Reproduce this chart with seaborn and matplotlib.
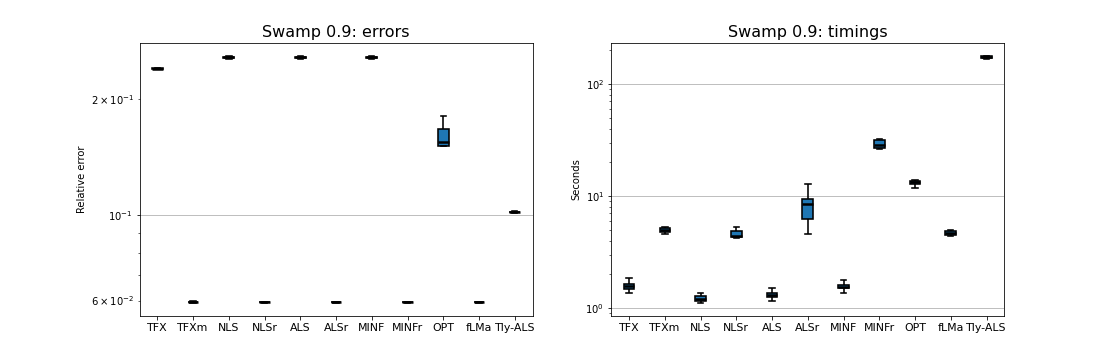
import pandas as pd
import matplotlib
matplotlib.use("Agg")
import matplotlib.pyplot as plt
import seaborn as sns

# Methods (x axis categories)
methods = ["TFX", "TFXm", "NLS", "NLSr", "ALS", "ALSr", "MINF", "MINFr", "OPT", "fLMa", "Tly-ALS"]

# Relative errors per method (min, q1, median, q3, max)
err_TFX = [0.2400, 0.2403, 0.2406, 0.2409, 0.2412]
err_TFXm = [0.0592, 0.0594, 0.0595, 0.0596, 0.0597]
err_NLS = [0.2545, 0.2555, 0.2572, 0.2585, 0.2590]
err_NLSr = [0.0593, 0.0594, 0.0594, 0.0595, 0.0595]
err_ALS = [0.2545, 0.2555, 0.2572, 0.2585, 0.2590]
err_ALSr = [0.0593, 0.0594, 0.0594, 0.0595, 0.0595]
err_MINF = [0.2545, 0.2555, 0.2572, 0.2585, 0.2590]
err_MINFr = [0.0593, 0.0594, 0.0594, 0.0595, 0.0595]
err_OPT = [0.1515, 0.1516, 0.1548, 0.1680, 0.1806]
err_fLMa = [0.0593, 0.0594, 0.0594, 0.0595, 0.0595]
err_TlyALS = [0.1016, 0.1018, 0.1020, 0.1022, 0.1024]

# Timings in seconds per method
t_TFX = [1.354, 1.47, 1.575, 1.63, 1.85]
t_TFXm = [4.61, 4.77, 5.01, 5.18, 5.29]
t_NLS = [1.101, 1.155, 1.21, 1.272, 1.354]
t_NLSr = [4.25, 4.30, 4.39, 4.87, 5.29]
t_ALS = [1.155, 1.255, 1.299, 1.354, 1.50]
t_ALSr = [4.61, 6.24, 8.45, 9.43, 12.86]
t_MINF = [1.354, 1.50, 1.543, 1.597, 1.77]
t_MINFr = [26.1, 26.7, 28.6, 31.9, 32.6]
t_OPT = [11.84, 12.86, 13.3, 13.77, 13.9]
t_fLMa = [4.39, 4.48, 4.67, 4.84, 4.97]
t_TlyALS = [169.0, 171.0, 174.0, 177.0, 180.0]

errors = [err_TFX, err_TFXm, err_NLS, err_NLSr, err_ALS, err_ALSr,
          err_MINF, err_MINFr, err_OPT, err_fLMa, err_TlyALS]
timings = [t_TFX, t_TFXm, t_NLS, t_NLSr, t_ALS, t_ALSr,
           t_MINF, t_MINFr, t_OPT, t_fLMa, t_TlyALS]

df_err = pd.DataFrame([(m, v) for m, vals in zip(methods, errors) for v in vals],
                      columns=["method", "value"])
df_time = pd.DataFrame([(m, v) for m, vals in zip(methods, timings) for v in vals],
                       columns=["method", "value"])

fig, axes = plt.subplots(1, 2, figsize=(15.5, 5), dpi=72)
fig.subplots_adjust(left=0.125, right=0.9, bottom=0.123, top=0.88, wspace=0.2)

box_kw = dict(x="method", y="value", order=methods, width=0.3, color="#1f77b4",
              saturation=1, linecolor="black", linewidth=1.6, whis=(0, 100),
              showfliers=False, log_scale=True,
              medianprops={"linewidth": 2.5, "color": "black"})

panels = [(axes[0], df_err, "Swamp 0.9: errors", "Relative error"),
          (axes[1], df_time, "Swamp 0.9: timings", "Seconds")]

for ax, d, title, ylab in panels:
    sns.boxplot(data=d, ax=ax, **box_kw)
    ax.set_title(title, fontsize=16)
    ax.set_xlabel("")
    ax.set_ylabel(ylab, fontsize=10)
    ax.yaxis.grid(True, which="major", color="#b0b0b0", linewidth=0.8)
    ax.set_axisbelow(True)
    ax.tick_params(axis="x", labelsize=11)
    ax.tick_params(axis="y", which="both", labelsize=10)
    for s in ax.spines.values():
        s.set_color("black")

axes[0].set_ylim(0.0548, 0.28)

plt.savefig("out.png", dpi=72)
